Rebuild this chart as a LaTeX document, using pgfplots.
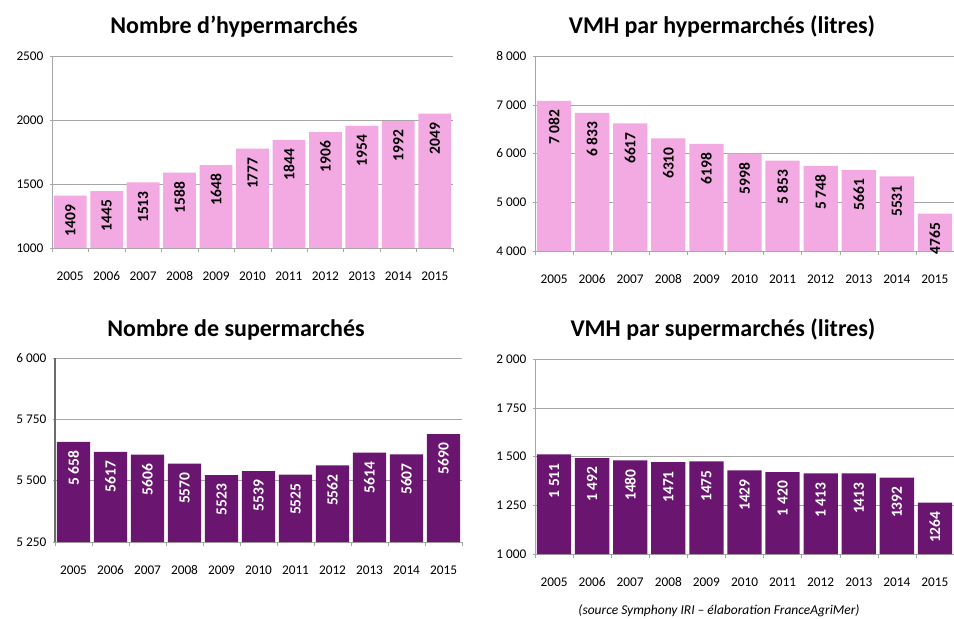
\documentclass[border=0pt]{standalone}
\usepackage{pgfplots}
\pgfplotsset{compat=1.18}
\usepackage{fontspec}
\setmainfont{Carlito}
\definecolor{pinkbar}{HTML}{F3A9E2}
\definecolor{purplebar}{HTML}{6A1570}
\definecolor{gridgray}{HTML}{A6A6A6}
\pgfplotsset{
  panel/.style={
    scale only axis,
    anchor=south west,
    xmin=-0.5, xmax=10.5,
    xtick={0,...,10},
    xticklabels={2005,2006,2007,2008,2009,2010,2011,2012,2013,2014,2015},
    major x tick style={draw=none},
    minor xtick={-0.5,0.5,...,10.5},
    minor x tick style={draw=gridgray, thin},
    minor tick length=4pt,
    major tick length=4pt,
    tick align=outside,
    axis x line=bottom, axis y line=left,
    axis line style={-, draw=gridgray, thick},
    y tick style={draw=gridgray, thin},
    ymajorgrids, grid style={gridgray, thin},
    tick label style={font=\fontsize{13.3}{15}\selectfont},
    xticklabel style={anchor=base, yshift=-28pt},
    yticklabel style={xshift=-3pt},
    ybar, bar width=0.9, bar shift=0pt,
    point meta=explicit symbolic,
    nodes near coords,
    nodes near coords style={rotate=90, anchor=east, inner sep=0pt, outer sep=9pt,
      font=\bfseries\fontsize{15.5}{17}\selectfont},
    clip=false,
  },
}
\begin{document}
\begin{tikzpicture}
\path[use as bounding box] (0pt,0pt) rectangle (954pt,-619pt);

% Panel 1
\begin{axis}[panel, at={(52pt,-248pt)}, width=401pt, height=192pt,
  ymin=1000, ymax=2500, ytick={1000,1500,2000,2500},
  yticklabels={1000,1500,2000,2500},
  nodes near coords style={text=black}]
\addplot[fill=pinkbar, draw=none] coordinates {
 (0,1409) [1409] (1,1445) [1445] (2,1513) [1513] (3,1588) [1588]
 (4,1648) [1648] (5,1777) [1777] (6,1844) [1844] (7,1906) [1906]
 (8,1954) [1954] (9,1992) [1992] (10,2049) [2049]};
\end{axis}

% Panel 2
\begin{axis}[panel, at={(535pt,-251pt)}, width=419pt, height=195pt,
  ymin=4000, ymax=8000, ytick={4000,5000,6000,7000,8000},
  yticklabels={4 000,5 000,6 000,7 000,8 000},
  nodes near coords style={text=black}]
\addplot[fill=pinkbar, draw=none] coordinates {
 (0,7082) [7 082] (1,6833) [6 833] (2,6617) [6617] (3,6310) [6310]
 (4,6198) [6198] (5,5998) [5998] (6,5853) [5 853] (7,5748) [5 748]
 (8,5661) [5661] (9,5531) [5531] (10,4765) [4765]};
\end{axis}

% Panel 3
\begin{axis}[panel, at={(55pt,-542pt)}, width=407pt, height=184pt,
  ymin=5250, ymax=6000, ytick={5250,5500,5750,6000},
  yticklabels={5 250,5 500,5 750,6 000},
  separate axis lines,
  y axis line style={-, draw=gray!85!black, line width=1.4pt},
  nodes near coords style={text=white}]
\addplot[fill=purplebar, draw=none] coordinates {
 (0,5658) [5 658] (1,5617) [5617] (2,5606) [5606] (3,5570) [5570]
 (4,5523) [5523] (5,5539) [5539] (6,5525) [5525] (7,5562) [5562]
 (8,5614) [5614] (9,5607) [5607] (10,5690) [5690]};
\end{axis}

% Panel 4
\begin{axis}[panel, at={(535pt,-554pt)}, width=419pt, height=195pt,
  ymin=1000, ymax=2000, ytick={1000,1250,1500,1750,2000},
  yticklabels={1 000,1 250,1 500,1 750,2 000},
  nodes near coords style={text=white}]
\addplot[fill=purplebar, draw=none] coordinates {
 (0,1511) [1 511] (1,1492) [1 492] (2,1480) [1480] (3,1471) [1471]
 (4,1475) [1475] (5,1429) [1429] (6,1420) [1 420] (7,1413) [1 413]
 (8,1413) [1413] (9,1392) [1392] (10,1264) [1264]};
\end{axis}

\begin{scope}[every node/.style={font=\bfseries\fontsize{24}{28}\selectfont, anchor=base, inner sep=0pt}]
\node at (234pt,-33pt) {Nombre d'hypermarchés};
\node at (722pt,-33pt) {VMH par hypermarchés (litres)};
\node at (236pt,-336pt) {Nombre de supermarchés};
\node at (723pt,-336pt) {VMH par supermarchés (litres)};
\end{scope}
\node[font=\itshape\fontsize{13.5}{16}\selectfont, anchor=base, inner sep=0pt] at (719pt,-614pt) {(source Symphony IRI – élaboration FranceAgriMer)};
\end{tikzpicture}
\end{document}
